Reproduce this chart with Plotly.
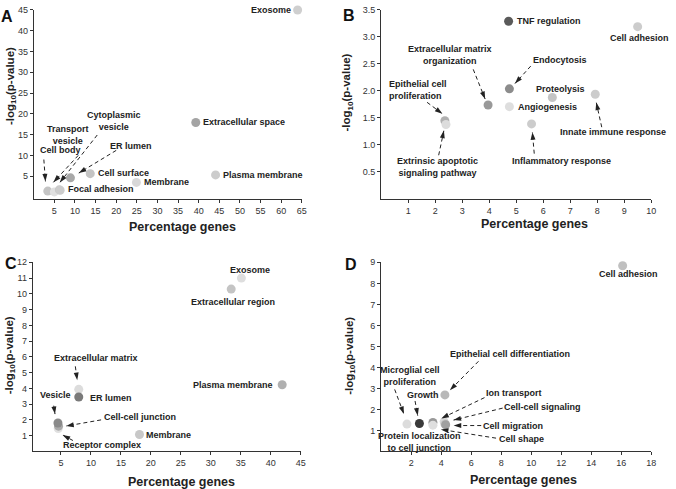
import math
import plotly.graph_objects as go

# ---------------- data ----------------
a_terms = ["Exosome", "Extracellular space", "Plasma membrane", "Membrane", "Cell surface",
           "ER lumen", "Cell body", "Transport vesicle", "Cytoplasmic vesicle", "Focal adhesion"]
a_pct = [64.0, 39.3, 44.1, 24.9, 13.7, 8.9, 3.4, 5.0, 6.2, 6.4]
a_logp = [45.0, 17.9, 5.3, 3.5, 5.6, 4.6, 1.4, 1.2, 1.7, 1.6]

b_terms = ["TNF regulation", "Cell adhesion", "Endocytosis", "Angiogenesis",
           "Extracellular matrix organization", "Proteolysis", "Innate immune response",
           "Inflammatory response", "Epithelial cell proliferation",
           "Extrinsic apoptotic signaling pathway"]
b_pct = [4.72, 9.5, 4.75, 4.75, 3.96, 6.34, 7.93, 5.57, 2.36, 2.4]
b_logp = [3.29, 3.19, 2.04, 1.71, 1.74, 1.88, 1.94, 1.39, 1.45, 1.38]

c_terms = ["Exosome", "Extracellular region", "Plasma membrane", "Membrane",
           "Extracellular matrix", "ER lumen", "Receptor complex", "Cell-cell junction", "Vesicle"]
c_pct = [35.1, 33.4, 41.9, 18.1, 7.97, 7.97, 4.55, 4.6, 4.5]
c_logp = [11.0, 10.3, 4.23, 1.07, 3.94, 3.45, 1.45, 1.6, 1.8]

d_terms = ["Cell adhesion", "Epithelial cell differentiation", "Microglial cell proliferation",
           "Growth", "Ion transport", "Protein localization to cell junction",
           "Cell-cell signaling", "Cell shape", "Cell migration"]
d_pct = [16.1, 4.25, 1.72, 2.55, 3.45, 3.45, 4.2, 4.25, 4.3]
d_logp = [8.84, 2.69, 1.30, 1.33, 1.38, 1.25, 1.42, 1.3, 1.27]

a_xticks = [5, 10, 15, 20, 25, 30, 35, 40, 45, 50, 55, 60, 65]
a_yticks = [5, 10, 15, 20, 25, 30, 35, 40, 45]
b_xticks = [1, 2, 3, 4, 5, 6, 7, 8, 9, 10]
b_yticks = [0.5, 1.0, 1.5, 2.0, 2.5, 3.0, 3.5]
c_xticks = [5, 10, 15, 20, 25, 30, 35, 40, 45]
c_yticks = [1, 2, 3, 4, 5, 6, 7, 8, 9, 10, 11, 12]
d_xticks = [2, 4, 6, 8, 10, 12, 14, 16, 18]
d_yticks = [1, 2, 3, 4, 5, 6, 7, 8, 9]

# ---------------- styles ----------------
a_colors = ["#cfcfcf", "#a4a4a4", "#cccccc", "#d8d8d8", "#c4c4c4", "#a8a8a8",
            "#c4c4c4", "#e0e0e0", "#c8c8c8", "#cccccc"]
b_colors = ["#5a5a5a", "#cccccc", "#8c8c8c", "#dedede", "#999999", "#c4c4c4",
            "#cccccc", "#cccccc", "#b0b0b0", "#dcdcdc"]
c_colors = ["#dedede", "#c4c4c4", "#b0b0b0", "#c8c8c8", "#dcdcdc", "#7a7a7a",
            "#e0e0e0", "#aaaaaa", "#8a8a8a"]
d_colors = ["#c0c0c0", "#b8b8b8", "#dcdcdc", "#3a3a3a", "#999999", "#dedede",
            "#d8d8d8", "#c8c8c8", "#a0a0a0"]

W, H = 676, 489
FONT = "Liberation Sans"

# panel: axis suffix, x domain px, y domain px (top, bottom), ranges, ticks
panels = {
    "A": dict(s="", xd=(34, 304), yd=(5, 196), xr=[0, 65], yr=[-0.5, 45],
              xt=a_xticks, yt=a_yticks, yfmt=None),
    "B": dict(s="2", xd=(384, 656), yd=(5, 196), xr=[0, 10], yr=[0, 3.5],
              xt=b_xticks, yt=b_yticks, yfmt=".1f"),
    "C": dict(s="3", xd=(33, 303), yd=(260, 451), xr=[0.3, 45], yr=[0, 12],
              xt=c_xticks, yt=c_yticks, yfmt=None),
    "D": dict(s="4", xd=(384, 656), yd=(260, 451), xr=[0, 18], yr=[0, 9],
              xt=d_xticks, yt=d_yticks, yfmt=None),
}

labels = {
    "A": [("Exosome", 62.8, 45.0, "right"), ("Extracellular space", 40.6, 18.0, "left"),
          ("Plasma membrane", 45.4, 5.2, "left"), ("Membrane", 26.3, 3.6, "left"),
          ("Cell surface", 15.0, 5.7, "left"), ("Focal adhesion", 7.8, 2.0, "left"),
          ("Cell body", 6.6, 11.2, "center"), ("Transport<br>vesicle", 8.4, 15.0, "center"),
          ("Cytoplasmic<br>vesicle", 19.4, 18.2, "center"), ("ER lumen", 23.5, 12.2, "center")],
    "B": [("TNF regulation", 4.97, 3.29, "left"), ("Cell adhesion", 9.58, 2.98, "center"),
          ("Extracellular matrix<br>organization", 2.54, 2.66, "center"),
          ("Endocytosis", 6.64, 2.58, "center"),
          ("Epithelial cell<br>proliferation", 0.22, 2.01, "left"),
          ("Proteolysis", 6.64, 2.03, "center"), ("Angiogenesis", 4.99, 1.71, "left"),
          ("Innate immune response", 8.58, 1.24, "center"),
          ("Inflammatory response", 6.68, 0.71, "center"),
          ("Extrinsic apoptotic<br>signaling pathway", 2.09, 0.60, "center")],
    "C": [("Exosome", 36.5, 11.5, "center"), ("Extracellular region", 33.7, 9.48, "center"),
          ("Plasma membrane", 40.7, 4.23, "right"), ("Membrane", 18.8, 1.07, "left"),
          ("Extracellular matrix", 10.8, 5.92, "center"), ("ER lumen", 9.45, 3.37, "left"),
          ("Vesicle", 4.1, 3.6, "center"), ("Cell-cell junction", 11.9, 2.2, "left"),
          ("Receptor complex", 11.9, 0.38, "center")],
    "D": [("Cell adhesion", 16.5, 8.45, "center"),
          ("Epithelial cell differentiation", 8.6, 4.63, "center"),
          ("Microglial cell<br>proliferation", 1.95, 3.61, "center"),
          ("Growth", 2.81, 2.69, "center"), ("Ion transport", 8.87, 2.77, "center"),
          ("Cell-cell signaling", 10.75, 2.09, "center"), ("Cell migration", 8.81, 1.23, "center"),
          ("Cell shape", 9.36, 0.57, "center"),
          ("Protein localization<br>to cell junction", 2.55, 0.44, "center")],
}

arrows = {
    "A": [(2.45, 9.0, 2.9, 2.9), (10.8, 10.0, 4.2, 2.9), (15.4, 14.9, 5.8, 2.8),
          (20.0, 11.2, 10.2, 5.3)],
    "B": [(3.41, 2.40, 3.90, 1.79), (5.54, 2.46, 4.87, 2.09), (1.70, 1.79, 2.37, 1.54),
          (2.13, 0.81, 2.35, 1.33), (5.67, 0.84, 5.59, 1.30), (8.17, 1.33, 7.94, 1.85)],
    "C": [(7.4, 5.4, 7.8, 4.3), (3.8, 2.9, 4.1, 2.15), (11.7, 2.0, 5.3, 1.57),
          (7.0, 0.69, 4.77, 1.15)],
    "D": [(6.49, 4.29, 4.42, 2.79), (0.9, 2.95, 1.6, 1.62), (2.26, 2.40, 2.48, 1.54),
          (6.89, 2.56, 3.80, 1.50), (8.1, 2.06, 4.6, 1.45), (6.67, 1.23, 4.6, 1.23),
          (7.66, 0.63, 3.75, 1.07)],
}

# title positions in px: (x-title cx, cy), (y-title cx, cy), (letter cx, cy)
titles = {
    "A": ((184, 224), (11, 82), (7, 12)),
    "B": ((538, 221), (350, 88), (352, 11)),
    "C": ((183, 482), (10, 354), (11, 261)),
    "D": ((527, 480), (353, 354), (354, 262)),
}

series = {
    "A": (a_terms, a_pct, a_logp, a_colors),
    "B": (b_terms, b_pct, b_logp, b_colors),
    "C": (c_terms, c_pct, c_logp, c_colors),
    "D": (d_terms, d_pct, d_logp, d_colors),
}

HEAD_R = 3.5  # arrowhead half-length, px

fig = go.Figure()
layout = dict(width=W, height=H, margin=dict(l=0, r=0, t=0, b=0),
              paper_bgcolor="white", plot_bgcolor="white", showlegend=False,
              font=dict(family=FONT, color="#222"))
annotations = []
shapes = []

for key, p in panels.items():
    s = p["s"]
    xdom = [p["xd"][0] / W, p["xd"][1] / W]
    ydom = [(H - p["yd"][1]) / H, (H - p["yd"][0]) / H]
    axcommon = dict(showline=True, linecolor="#333", linewidth=1, ticks="outside",
                    ticklen=3, tickwidth=1, tickcolor="#333", showgrid=False, zeroline=False,
                    tickfont=dict(family=FONT, size=9, color="#333"), fixedrange=True)
    layout["xaxis" + s] = dict(domain=xdom, range=p["xr"], tickvals=p["xt"],
                               anchor="y" + s, **axcommon)
    ya = dict(domain=ydom, range=p["yr"], tickvals=p["yt"], anchor="x" + s, **axcommon)
    if p["yfmt"]:
        ya["tickformat"] = p["yfmt"]
    layout["yaxis" + s] = ya

    terms, xs, ys, cols = series[key]
    fig.add_trace(go.Scatter(x=xs, y=ys, text=terms, mode="markers",
                             xaxis="x" + s, yaxis="y" + s, cliponaxis=False,
                             marker=dict(size=9, color=cols, line=dict(width=0)),
                             hoverinfo="text"))

    xref, yref = "x" + s, "y" + s
    for txt, lx, ly, anc in labels[key]:
        annotations.append(dict(text="<b>" + txt + "</b>", x=lx, y=ly, xref=xref, yref=yref,
                                xanchor=anc, yanchor="middle", align=anc,
                                showarrow=False, font=dict(family=FONT, size=9, color="#222")))

    # pixel scales to orient the arrowheads
    sx = (p["xd"][1] - p["xd"][0]) / (p["xr"][1] - p["xr"][0])
    sy = (p["yd"][1] - p["yd"][0]) / (p["yr"][1] - p["yr"][0])
    hx_list, hy_list, ang_list = [], [], []
    for tx, ty, hx, hy in arrows[key]:
        dx = (tx - hx) * sx
        dy = -(ty - hy) * sy
        L = math.hypot(dx, dy)
        ux, uy = dx / L, dy / L  # screen direction head -> tail
        cx = hx + ux * HEAD_R / sx
        cy = hy - uy * HEAD_R / sy
        shapes.append(dict(type="line", xref=xref, yref=yref, x0=tx, y0=ty, x1=cx, y1=cy,
                           line=dict(color="#222", width=1, dash="4px,3px")))
        hx_list.append(cx)
        hy_list.append(cy)
        ang_list.append(math.degrees(math.atan2(-ux, uy)))
    fig.add_trace(go.Scatter(x=hx_list, y=hy_list, mode="markers", xaxis=xref, yaxis=yref,
                             cliponaxis=False, hoverinfo="skip",
                             marker=dict(symbol="arrow", size=8, angle=ang_list,
                                         color="#222", line=dict(width=0))))

    (xtx, xty), (ytx, yty), (lx, ly) = titles[key]
    annotations.append(dict(text="<b>Percentage genes</b>", x=xtx / W, y=(H - xty) / H,
                            xref="paper", yref="paper", xanchor="center", yanchor="middle",
                            showarrow=False, font=dict(family=FONT, size=12.5, color="#222")))
    annotations.append(dict(text="<b>-log<sub>10</sub>(p-value)</b>", x=ytx / W, y=(H - yty) / H,
                            xref="paper", yref="paper", xanchor="center", yanchor="middle",
                            textangle=-90, showarrow=False,
                            font=dict(family=FONT, size=11.5, color="#222")))
    annotations.append(dict(text="<b>" + key + "</b>", x=lx / W, y=(H - ly) / H,
                            xref="paper", yref="paper", xanchor="center", yanchor="middle",
                            showarrow=False, font=dict(family=FONT, size=16, color="#111")))

layout["annotations"] = annotations
layout["shapes"] = shapes
fig.update_layout(**layout)
fig.write_html("out.html", config={"displayModeBar": False, "staticPlot": True},
               post_script="document.body.style.margin='0';document.body.style.overflow='hidden';")
